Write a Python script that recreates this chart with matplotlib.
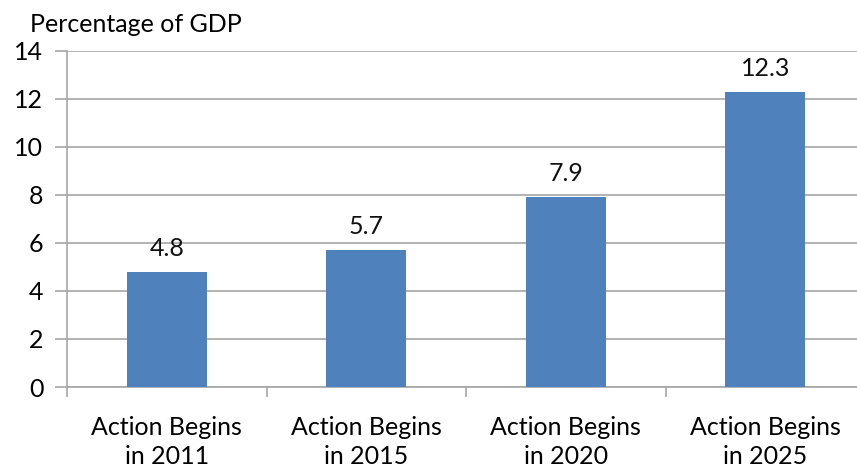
import matplotlib
matplotlib.use("Agg")
import matplotlib.pyplot as plt
import numpy as np

# data
categories = ["Action Begins\nin 2011", "Action Begins\nin 2015",
              "Action Begins\nin 2020", "Action Begins\nin 2025"]
values = [4.8, 5.7, 7.9, 12.3]
yticks = [0, 2, 4, 6, 8, 10, 12, 14]

plt.rcParams['font.family'] = ['Lato', 'DejaVu Sans']
FS = 18

fig = plt.figure(figsize=(8.57, 4.73), dpi=100)
# axes runs a little past the right edge, as in the original
ax = fig.add_axes([67 / 857, 86 / 473, 798 / 857, 336 / 473])

x = np.arange(len(categories))
ax.bar(x, values, width=0.4, color="#4F81BD", zorder=3)

for xi, v in zip(x, values):
    ax.text(xi, v + 0.5, f"{v:.1f}", ha="center", va="bottom", fontsize=FS, color="#111111")

ax.set_xlim(-0.5, len(categories) - 0.5)
ax.set_ylim(0, 14)
ax.set_yticks(yticks)
ax.set_yticklabels([str(t) for t in yticks], fontsize=FS)
ax.yaxis.grid(True, color="#A6A6A6", linewidth=1.2, zorder=0)
ax.tick_params(axis="y", length=9, width=1.2, color="#A6A6A6", pad=8)

# category labels centred, tick marks on boundaries
ax.set_xticks(x)
ax.set_xticklabels(categories, fontsize=FS, linespacing=1.3)
ax.tick_params(axis="x", length=0, pad=21)
ax.set_xticks(np.arange(len(categories) + 1) - 0.5, minor=True)
ax.tick_params(axis="x", which="minor", length=7, width=1.2, color="#A6A6A6")

for side in ["top", "right"]:
    ax.spines[side].set_visible(False)
for side in ["left", "bottom"]:
    ax.spines[side].set_color("#A6A6A6")
    ax.spines[side].set_linewidth(1.2)

fig.text(30 / 857, 1 - 32 / 473, "Percentage of GDP", fontsize=FS, ha="left", va="baseline")

fig.savefig("out.png", dpi=100)
